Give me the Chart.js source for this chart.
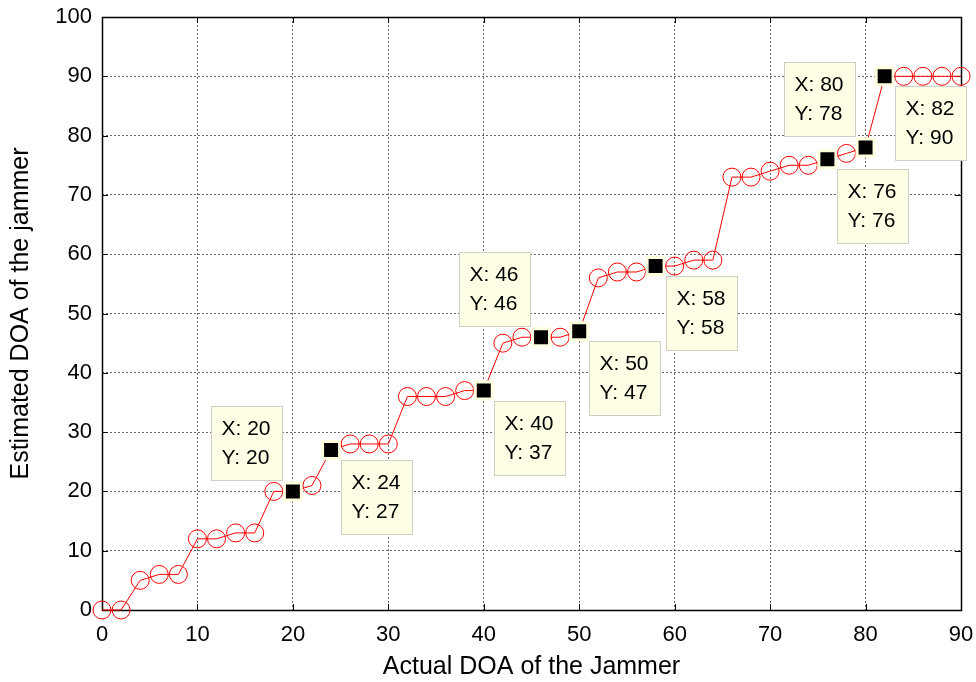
<!DOCTYPE html>
<html>
<head>
<meta charset="utf-8">
<script src="https://cdn.jsdelivr.net/npm/chart.js@4/dist/chart.umd.min.js"></script>
<style>
  body { margin: 0; background: #fff; }
</style>
</head>
<body>
<canvas id="doaChart" width="976" height="682"></canvas>
<script>
// actual DOA (degrees)
const actualDoa = [0, 2, 4, 6, 8, 10, 12, 14, 16, 18, 20, 22, 24, 26, 28, 30, 32, 34, 36, 38, 40, 42, 44,
  46, 48, 50, 52, 54, 56, 58, 60, 62, 64, 66, 68, 70, 72, 74, 76, 78, 80, 82, 84, 86, 88, 90];
// estimated DOA
const estimatedDoa = [0, 0, 5, 6, 6, 12, 12, 13, 13, 20, 20, 21, 27, 28, 28, 28, 36, 36, 36, 37, 37, 45, 46,
  46, 46, 47, 56, 57, 57, 58, 58, 59, 59, 73, 73, 74, 75, 75, 76, 77, 78, 90, 90, 90, 90, 90];
// points that carry a data tip
const tipPoints = [20, 24, 40, 46, 50, 58, 76, 80, 82];
const xTicks = [0, 10, 20, 30, 40, 50, 60, 70, 80, 90];
const yTicks = [0, 10, 20, 30, 40, 50, 60, 70, 80, 90, 100];

// which side of the marker the tip box sits on
const tipSide = { 20: 'ul', 24: 'dr', 40: 'dr', 46: 'ul', 50: 'dr', 58: 'dr', 76: 'dr', 80: 'ul', 82: 'dr' };

const FONT = 'Arial, "Liberation Sans", sans-serif';

function isTip(ctx) {
  const p = ctx.raw;
  return p && tipPoints.indexOf(p.x) >= 0;
}

// box, inward ticks
const frame = {
  id: 'frame',
  beforeDatasetsDraw(chart) {
    const { ctx, chartArea: a, scales } = chart;
    ctx.save();
    ctx.strokeStyle = '#000';
    ctx.lineWidth = 1;
    ctx.beginPath();
    xTicks.forEach(v => {
      const px = Math.round(scales.x.getPixelForValue(v)) + 0.5;
      ctx.moveTo(px, a.bottom); ctx.lineTo(px, a.bottom - 6);
      ctx.moveTo(px, a.top); ctx.lineTo(px, a.top + 6);
    });
    yTicks.forEach(v => {
      const py = Math.round(scales.y.getPixelForValue(v)) + 0.5;
      ctx.moveTo(a.left, py); ctx.lineTo(a.left + 6, py);
      ctx.moveTo(a.right, py); ctx.lineTo(a.right - 6, py);
    });
    ctx.stroke();
    ctx.lineWidth = 1.5;
    ctx.strokeRect(Math.round(a.left) + 0.5, Math.round(a.top) + 0.5,
      Math.round(a.right - a.left), Math.round(a.bottom - a.top));
    ctx.restore();
  }
};

// MATLAB style data tips
const dataTips = {
  id: 'dataTips',
  afterDatasetsDraw(chart) {
    const { ctx, scales } = chart;
    ctx.save();
    ctx.font = '21px ' + FONT;
    ctx.textBaseline = 'middle';
    tipPoints.forEach(xv => {
      const i = actualDoa.indexOf(xv);
      const yv = estimatedDoa[i];
      const px = scales.x.getPixelForValue(xv);
      const py = scales.y.getPixelForValue(yv);
      const w = 71, h = 74;
      let bx, by;
      if (tipSide[xv] === 'ul') { bx = px - 11 - w; by = py - 11 - h; }
      else { bx = px + 10; by = py + 10; }
      bx = Math.round(bx) + 0.5; by = Math.round(by) + 0.5;
      ctx.fillStyle = '#ffffe6';
      ctx.fillRect(bx, by, w, h);
      ctx.strokeStyle = '#cfcfc4';
      ctx.lineWidth = 1;
      ctx.strokeRect(bx, by, w, h);
      ctx.fillStyle = '#000';
      ctx.fillText('X: ' + xv, bx + 10, by + 23);
      ctx.fillText('Y: ' + yv, bx + 10, by + 52);
    });
    ctx.restore();
  }
};

new Chart(document.getElementById('doaChart'), {
  type: 'line',
  data: {
    datasets: [{
      data: actualDoa.map((x, i) => ({ x: x, y: estimatedDoa[i] })),
      borderColor: '#ff0000',
      borderWidth: 1,
      fill: false,
      tension: 0,
      clip: false,
      pointStyle: c => isTip(c) ? 'rect' : 'circle',
      pointRadius: c => isTip(c) ? 12 : 9,
      pointBackgroundColor: c => isTip(c) ? '#000' : 'rgba(0,0,0,0)',
      pointBorderColor: c => isTip(c) ? '#ffffe0' : '#ff0000',
      pointBorderWidth: c => isTip(c) ? 3 : 1
    }]
  },
  options: {
    responsive: false,
    animation: false,
    layout: { padding: { top: 17, right: 15, left: 0, bottom: 0 } },
    plugins: {
      legend: { display: false },
      tooltip: { enabled: false }
    },
    scales: {
      x: {
        type: 'linear',
        min: 0,
        max: 90,
        afterFit: s => { s.height = 72; s.paddingLeft = 0; s.paddingRight = 0; },
        afterBuildTicks: s => { s.ticks = xTicks.map(v => ({ value: v })); },
        grid: {
          color: '#666',
          lineWidth: 1,
          drawTicks: false
        },
        border: { display: false, dash: [2, 2] },
        ticks: {
          color: '#000',
          padding: 12,
          maxRotation: 0,
          font: { family: FONT, size: 22 }
        },
        title: {
          display: true,
          text: 'Actual DOA of the Jammer',
          color: '#000',
          padding: { top: 0, bottom: 0 },
          font: { family: FONT, size: 25 }
        }
      },
      y: {
        type: 'linear',
        min: 0,
        max: 100,
        afterFit: s => { s.width = 102; s.paddingTop = 0; s.paddingBottom = 0; },
        afterBuildTicks: s => { s.ticks = yTicks.map(v => ({ value: v })); },
        grid: {
          color: '#666',
          lineWidth: 1,
          drawTicks: false
        },
        border: { display: false, dash: [2, 2] },
        ticks: {
          color: '#000',
          padding: 10,
          font: { family: FONT, size: 22 }
        },
        title: {
          display: true,
          text: 'Estimated DOA of the jammer',
          color: '#000',
          padding: { top: 6, bottom: 0 },
          font: { family: FONT, size: 25 }
        }
      }
    }
  },
  plugins: [frame, dataTips]
});
</script>
</body>
</html>
